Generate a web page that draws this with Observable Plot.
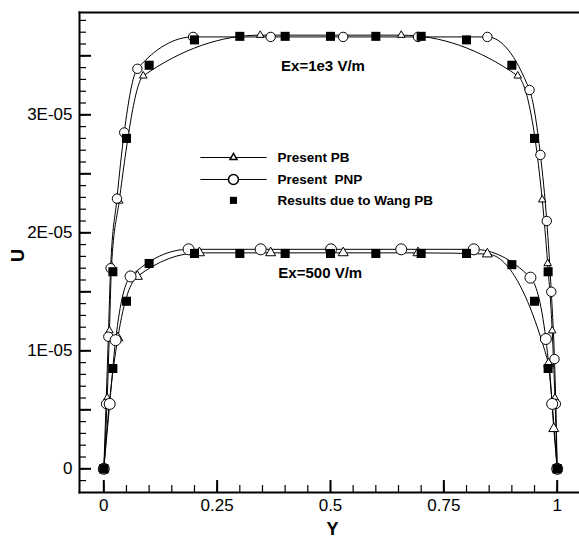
<!DOCTYPE html>
<html>
<head>
<meta charset="utf-8">
<script src="https://cdn.jsdelivr.net/npm/d3@7"></script>
<script src="https://cdn.jsdelivr.net/npm/@observablehq/plot@0.6"></script>
<style>
  body { margin: 0; background: #fff; }
  svg { display: block; }
  svg text { white-space: pre; }
</style>
</head>
<body>
<div id="chart"></div>
<script>
// ---------- data (U in m/s, Y dimensionless) ----------
// Ex = 1e3 V/m
const pbHiY  = [0, 0.0075, 0.0125, 0.017, 0.034, 0.087, 0.345, 0.656, 0.913, 0.967, 0.979, 0.989, 0.995, 1];
const pbHiU  = [0, 0.60e-5, 1.17e-5, 1.72e-5, 2.27e-5, 3.33e-5, 3.675e-5, 3.675e-5, 3.33e-5, 2.28e-5, 1.74e-5, 1.17e-5, 0.60e-5, 0];
const pnpHiY = [0, 0.005, 0.010, 0.015, 0.029, 0.045, 0.074, 0.197, 0.368, 0.528, 0.693, 0.846, 0.939, 0.963, 0.977, 0.987, 0.994, 0.997, 1];
const pnpHiU = [0, 0.55e-5, 1.12e-5, 1.70e-5, 2.29e-5, 2.85e-5, 3.39e-5, 3.66e-5, 3.66e-5, 3.66e-5, 3.66e-5, 3.66e-5, 3.21e-5, 2.66e-5, 2.10e-5, 1.50e-5, 0.93e-5, 0.55e-5, 0];
const wangHiY = [0, 0.02, 0.05, 0.1, 0.2, 0.3, 0.4, 0.5, 0.6, 0.7, 0.8, 0.9, 0.95, 0.98, 1];
const wangHiU = [0, 1.67e-5, 2.80e-5, 3.42e-5, 3.635e-5, 3.665e-5, 3.665e-5, 3.665e-5, 3.665e-5, 3.665e-5, 3.635e-5, 3.42e-5, 2.80e-5, 1.67e-5, 0];
// Ex = 500 V/m
const pbLoY  = [0, 0.012, 0.031, 0.074, 0.211, 0.368, 0.528, 0.693, 0.846, 0.981, 0.9925, 1];
const pbLoU  = [0, 0.55e-5, 1.11e-5, 1.63e-5, 1.83e-5, 1.83e-5, 1.83e-5, 1.83e-5, 1.82e-5, 0.89e-5, 0.34e-5, 0];
const pnpLoY = [0, 0.013, 0.026, 0.059, 0.187, 0.346, 0.501, 0.656, 0.816, 0.941, 0.975, 0.989, 1];
const pnpLoU = [0, 0.55e-5, 1.09e-5, 1.63e-5, 1.86e-5, 1.86e-5, 1.86e-5, 1.86e-5, 1.86e-5, 1.62e-5, 1.10e-5, 0.55e-5, 0];
const wangLoY = [0, 0.02, 0.05, 0.1, 0.2, 0.3, 0.4, 0.5, 0.6, 0.7, 0.8, 0.9, 0.95, 0.98, 1];
const wangLoU = [0, 0.85e-5, 1.42e-5, 1.74e-5, 1.825e-5, 1.825e-5, 1.825e-5, 1.825e-5, 1.825e-5, 1.825e-5, 1.825e-5, 1.73e-5, 1.42e-5, 0.85e-5, 0];

// ---------- axes ----------
const xTickValues = [0, 0.25, 0.5, 0.75, 1];
const xTickLabels = ["0", "0.25", "0.5", "0.75", "1"];
const yTickValues = [0, 1e-5, 2e-5, 3e-5];
const yTickLabels = ["0", "1E-05", "2E-05", "3E-05"];
const yMidTicks = [0.5e-5, 1.5e-5, 2.5e-5, 3.5e-5];
const xMinorTicks = d3.range(0, 21).map(i => i * 0.05);
const yMinorTicks = d3.range(-1, 39).map(i => i * 1e-6);

const legendLabels = ["Present PB", "Present  PNP", "Results due to Wang PB"];
const annotationLabels = ["Ex=1e3 V/m", "Ex=500 V/m"];
const axisTitles = ["Y", "U"];

const pts = (xs, us) => xs.map((x, i) => ({y: x, u: us[i]}));
const pbHi = pts(pbHiY, pbHiU), pnpHi = pts(pnpHiY, pnpHiU), wangHi = pts(wangHiY, wangHiU);
const pbLo = pts(pbLoY, pbLoU), pnpLo = pts(pnpLoY, pnpLoU), wangLo = pts(wangLoY, wangLoU);

const W = 579, H = 542, mL = 79, mR = 0, mT = 12, mB = 50;
const frameW = W - mL - mR, frameH = H - mT - mB;

// legend placement (data units)
const legX1 = 0.213, legX2 = 0.359, legSym = 0.286, legText = 0.383;
const legRows = [2.638e-5, 2.452e-5, 2.275e-5];

const lineOpts = {x: "y", y: "u", curve: "monotone-x", stroke: "black", strokeWidth: 1};
const openSym = {x: "y", y: "u", fill: "white", stroke: "black", strokeWidth: 1};

const chart = Plot.plot({
  width: W, height: H,
  marginLeft: mL, marginRight: mR, marginTop: mT, marginBottom: mB,
  style: {fontFamily: "'Liberation Sans', Arial, sans-serif", background: "white", color: "black"},
  x: {domain: [-0.0536, 1.0492]},
  y: {domain: [-0.2008e-5, 3.867e-5]},
  marks: [
    // frame (left, top, bottom)
    Plot.frame({anchor: "left", stroke: "black", strokeWidth: 2}),
    Plot.frame({anchor: "top", stroke: "black", strokeWidth: 2}),
    Plot.frame({anchor: "bottom", stroke: "black", strokeWidth: 2}),
    // inward ticks
    Plot.tickY(yMinorTicks, {y: d => d, insetRight: frameW - 7, stroke: "black", strokeWidth: 1.2}),
    Plot.tickY(yMidTicks.concat(yTickValues), {y: d => d, insetRight: frameW - 12, stroke: "black", strokeWidth: 2}),
    Plot.tickX(xMinorTicks, {x: d => d, insetTop: frameH - 7, stroke: "black", strokeWidth: 1.2}),
    Plot.tickX(xTickValues, {x: d => d, insetTop: frameH - 12, stroke: "black", strokeWidth: 2}),
    // axis labels
    Plot.axisY(yTickValues, {tickSize: 0, tickPadding: 7, fontSize: 17, label: null,
      tickFormat: d => yTickLabels[yTickValues.indexOf(d)]}),
    Plot.axisX(xTickValues, {tickSize: 0, tickPadding: 6, fontSize: 17, label: null,
      tickFormat: d => xTickLabels[xTickValues.indexOf(d)]}),
    Plot.text([axisTitles[0]], {text: d => d, frameAnchor: "bottom", dy: 42, dx: 3, fontWeight: "bold", fontSize: 18}),
    Plot.text([axisTitles[1]], {text: d => d, frameAnchor: "left", dx: -61.5, dy: 9.5, rotate: -90, fontWeight: "bold", fontSize: 18}),
    // curves
    Plot.line(pbHi, lineOpts),
    Plot.line(pnpHi, lineOpts),
    Plot.line(pbLo, lineOpts),
    Plot.line(pnpLo, lineOpts),
    // symbols
    Plot.dot(pbHi, {...openSym, symbol: "triangle", r: 2.8}),
    Plot.dot(pbLo, {...openSym, symbol: "triangle", r: 3.7}),
    Plot.dot(pnpHi, {...openSym, symbol: "circle", r: 4.7}),
    Plot.dot(pnpLo, {...openSym, symbol: "circle", r: 5.5}),
    Plot.dot(wangHi, {x: "y", y: "u", symbol: "square", r: 5.1, fill: "black", stroke: "none"}),
    Plot.dot(wangLo, {x: "y", y: "u", symbol: "square", r: 5.1, fill: "black", stroke: "none"}),
    // annotations
    Plot.text([{y: 0.391, u: 3.41e-5, t: annotationLabels[0]}], {x: "y", y: "u", text: "t", textAnchor: "start", fontWeight: "bold", fontSize: 15}),
    Plot.text([{y: 0.385, u: 1.66e-5, t: annotationLabels[1]}], {x: "y", y: "u", text: "t", textAnchor: "start", fontWeight: "bold", fontSize: 15}),
    // legend
    Plot.link(legRows.slice(0, 2), {x1: legX1, x2: legX2, y1: d => d, y2: d => d, stroke: "black", strokeWidth: 1}),
    Plot.dot([legRows[0]], {x: legSym, y: d => d, symbol: "triangle", r: 2.6, fill: "white", stroke: "black"}),
    Plot.dot([legRows[1]], {x: legSym, y: d => d, symbol: "circle", r: 5, fill: "white", stroke: "black"}),
    Plot.dot([legRows[2]], {x: legSym, y: d => d, symbol: "square", r: 4, fill: "black", stroke: "none"}),
    Plot.text(legendLabels, {x: legText, y: (d, i) => legRows[i], text: d => d, textAnchor: "start", fontWeight: "bold", fontSize: 13.5})
  ]
});
document.getElementById("chart").appendChild(chart);
</script>
</body>
</html>
